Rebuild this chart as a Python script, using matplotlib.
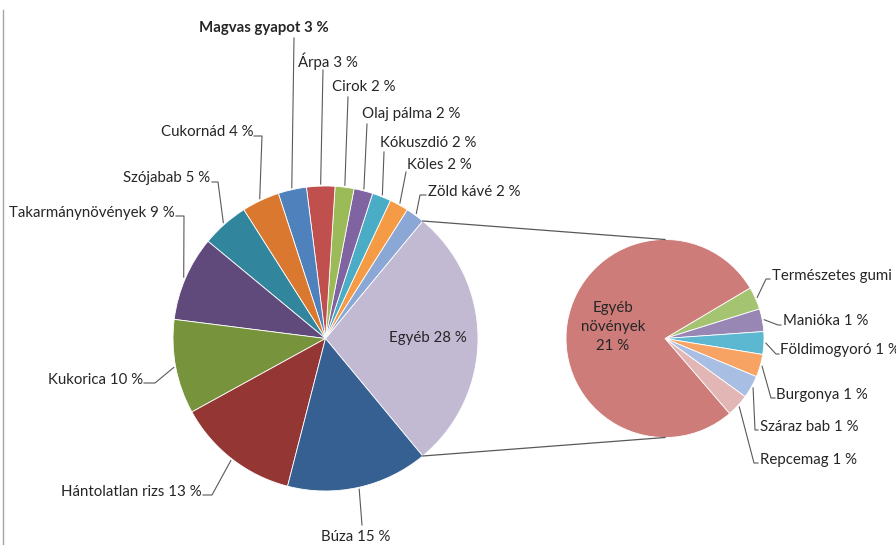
import numpy as np
import matplotlib.pyplot as plt

plt.rcParams['font.family'] = ['Lato', 'DejaVu Sans']

# main pie, counterclockwise starting with the "Egyéb" slice
main_names = ["Egyéb", "Zöld kávé", "Köles", "Kókuszdió", "Olaj pálma", "Cirok", "Árpa",
              "Magvas gyapot", "Cukornád", "Szójabab", "Takarmánynövények", "Kukorica",
              "Hántolatlan rizs", "Búza"]
main_values = [28, 2, 2, 2, 2, 2, 3, 3, 4, 5, 9, 10, 13, 15]

# breakdown of "Egyéb", clockwise from the upper small slice
sub_names = ["Természetes gumi", "Manióka", "Földimogyoró", "Burgonya", "Száraz bab",
             "Repcemag", "Egyéb növények"]
sub_values = [1, 1, 1, 1, 1, 1, 21]

main_colors = ['#c2b9d3', '#8ba7d6', '#f59b45', '#4bacc6', '#8064a2', '#9bbb59', '#c0504d',
               '#4f81bd', '#d9782e', '#31859c', '#604a7b', '#77933c', '#943634', '#366092']
sub_colors = ['#a5c472', '#9886b5', '#5cb8d0', '#f7a363', '#a9bee3', '#e2b6b5', '#cd7c7a']

W, H = 896, 545
TXT = '#262626'
LINE = '#595959'
FS = 10.8


def P(x, y):
    # pixel position (from the top left) to axes coords
    return x, H - y


fig = plt.figure(figsize=(8.96, 5.45), dpi=100)
ax = fig.add_axes([0, 0, 1, 1])

c1, r1 = P(325.5, 338.5), 152.5
c2, r2 = P(665, 338.5), 99

explode = [0.04 if n == "Magvas gyapot" else 0 for n in main_names]
start1 = -360 * main_values[0] / sum(main_values) / 2
w1, _ = ax.pie(main_values, colors=main_colors, startangle=start1, center=c1, radius=r1,
               explode=explode, wedgeprops=dict(edgecolor='white', linewidth=0.6))
w2, _ = ax.pie(sub_values, colors=sub_colors, startangle=30.7, counterclock=False,
               center=c2, radius=r2, wedgeprops=dict(edgecolor='white', linewidth=0.6))

ax.set_xlim(0, W)
ax.set_ylim(0, H)
ax.set_aspect('equal')
ax.set_axis_off()


def anchor(w, extra=2):
    th = np.deg2rad((w.theta1 + w.theta2) / 2)
    cx, cy = w.center
    r = w.r + extra
    return cx + r * np.cos(th), cy + r * np.sin(th)


# connector lines between the two pies
e = w1[0]
for th, sy in [(e.theta2, 1), (e.theta1, -1)]:
    t = np.deg2rad(th)
    ax.plot([c1[0] + r1 * np.cos(t), c2[0]], [c1[1] + r1 * np.sin(t), c2[1] + sy * r2],
            color=LINE, lw=0.9)

# labels: (x, y, ha) in pixels, then the leader points before the slice
main_layout = {
    "Zöld kávé": ((428, 192, 'left'), [(426, 195), (420, 195)]),
    "Köles": ((407, 165, 'left'), [(406, 172)]),
    "Kókuszdió": ((380, 143, 'left'), [(384, 152)]),
    "Olaj pálma": ((362, 114, 'left'), [(367, 124)]),
    "Cirok": ((332, 87, 'left'), [(348, 97)]),
    "Árpa": ((298, 61, 'left'), [(323, 70)]),
    "Magvas gyapot": ((199, 28, 'left'), [(294, 38)]),
    "Cukornád": ((253, 132, 'right'), [(254, 136), (262, 136)]),
    "Szójabab": ((210, 178, 'right'), [(212, 182), (218, 182)]),
    "Takarmánynövények": ((175, 213, 'right'), [(176, 216), (184, 216)]),
    "Kukorica": ((143, 380, 'right'), [(144, 383), (155, 383)]),
    "Hántolatlan rizs": ((202, 492, 'right'), [(203, 495), (212, 495)]),
    "Búza": ((356, 537, 'center'), [(362, 525)]),
}
sub_layout = {
    "Természetes gumi": ((772, 276, 'left'), [(770, 279), (766, 279)]),
    "Manióka": ((783, 321, 'left'), [(781, 325), (778, 325)]),
    "Földimogyoró": ((780, 350, 'left'), [(779, 354), (776, 354)]),
    "Burgonya": ((776, 395, 'left'), [(775, 398), (771, 398)]),
    "Száraz bab": ((760, 427, 'left'), [(758, 430), (755, 430)]),
    "Repcemag": ((760, 460, 'left'), [(758, 463), (754, 463)]),
}

for names, values, wedges, layout in [(main_names, main_values, w1, main_layout),
                                      (sub_names, sub_values, w2, sub_layout)]:
    for n, v, w in zip(names, values, wedges):
        if n not in layout:
            continue
        (tx, ty, ha), pts = layout[n]
        bold = 'bold' if n == "Magvas gyapot" else 'normal'
        ax.text(*P(tx, ty), f"{n} {v} %", ha=ha, va='center', fontsize=FS,
                color=TXT, fontweight=bold)
        xs = [P(*p)[0] for p in pts] + [anchor(w)[0]]
        ys = [P(*p)[1] for p in pts] + [anchor(w)[1]]
        ax.plot(xs, ys, color=LINE, lw=0.8)

ax.text(*P(428, 338), f"{main_names[0]} {main_values[0]} %", ha='center', va='center',
        fontsize=FS, color=TXT)
ax.text(*P(613, 327), "Egyéb\nnövények\n" + f"{sub_values[-1]} %", ha='center', va='center',
        fontsize=FS, color=TXT, linespacing=1.45)

# left border of the chart area
ax.plot([3, 3], [0, H - 10], color='#a6a6a6', lw=1)

fig.savefig("out.png", dpi=100)
